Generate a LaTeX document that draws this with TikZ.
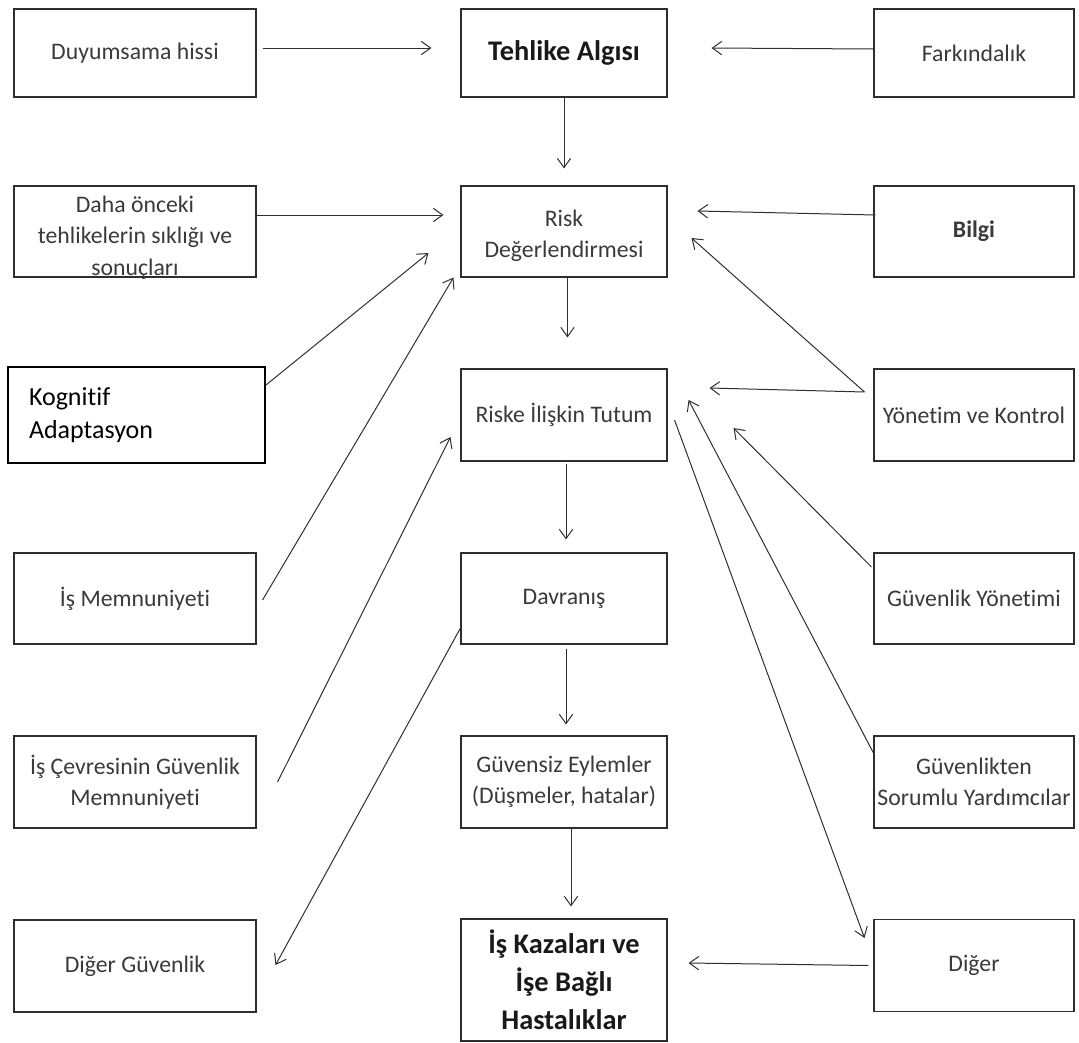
\documentclass[tikz,border=0pt]{standalone}
\usepackage{fontspec}
\setmainfont{Carlito}[Ligatures={NoCommon,NoRequired,NoContextual},Contextuals=NoAlternate]
\usetikzlibrary{arrows.meta,calc}
\definecolor{boxc}{HTML}{2E2E2E}
\definecolor{txtc}{HTML}{3A3A3A}
\definecolor{linec}{HTML}{303030}
\begin{document}
\begin{tikzpicture}[x=0.75pt,y=-0.75pt,
  box/.style={draw=boxc, line width=0.8pt, inner sep=0pt, align=center, text=txtc,
    font=\fontsize{17.8}{23.5}\selectfont},
  lbox/.style={box, minimum width=181.5pt},
  mbox/.style={box, minimum width=154.5pt},
  rbox/.style={box, minimum width=150pt},
  txt/.style={inner sep=0pt, align=center, text=txtc, font=\fontsize{17.8}{23.5}\selectfont},
  bigb/.style={font=\fontsize{21.3}{28.5}\selectfont\bfseries, text=black!90},
  conn/.style={draw=linec, line width=0.75pt, -{Straight Barb[length=7pt,width=10pt,line width=0.75pt]}}
]
\useasboundingbox (0,0) rectangle (1079,1043);
\fill[white] (0,0) rectangle (1079,1043);

% left column
\node[lbox, minimum height=66pt] (dh) at (135,53) {Duyumsama hissi};
\node[lbox, minimum height=68.25pt] (dah) at (135,231.5) {};
\node[txt] (dahT) at ($(dah.center)+(0,6)$) {Daha önceki\\tehlikelerin sıklığı ve\\sonuçları};
\node[box, draw=black, line width=1.5pt, text=black, align=left, inner xsep=15.75pt,
  text width=161.25pt, minimum height=72pt, font=\fontsize{19.5}{24.75}\selectfont] (kog) at (136.5,415) {Kognitif\\Adaptasyon};
\node[lbox, minimum height=68.25pt] (ism) at (135,598.5) {İş Memnuniyeti};
\node[lbox, minimum height=69pt] (isc) at (135,782) {İş Çevresinin Güvenlik\\Memnuniyeti};
\node[lbox, minimum height=69pt] (dgg) at (135,966) {Diğer Güvenlik};

% middle column
\node[mbox, bigb, minimum height=66pt] (ta) at (564,53) {Tehlike Algısı};
\node[mbox, minimum height=68.25pt] (rd) at (564,231.5) {};
\node[txt] (rdT) at ($(rd.center)+(0,4)$) {Risk\\Değerlendirmesi};
\node[mbox, minimum height=69pt] (rit) at (564,415) {Riske İlişkin Tutum};
\node[mbox, minimum height=68.25pt] (dav) at (564,598.5) {Davranış};
\node[mbox, minimum height=69pt] (ge) at (564,782) {Güvensiz Eylemler\\(Düşmeler, hatalar)};
\node[mbox, bigb, minimum height=91.5pt] (ik) at (564,980) {İş Kazaları ve\\İşe Bağlı\\Hastalıklar};

% right column
\node[rbox, minimum height=66pt] (fk) at (974,53) {Farkındalık};
\node[rbox, minimum height=68.25pt, font=\fontsize{17.8}{23.5}\selectfont\bfseries] (bl) at (974,231.5) {Bilgi};
\node[rbox, minimum height=69pt] (yk) at (974,415) {Yönetim ve Kontrol};
\node[rbox, minimum height=68.25pt] (gy) at (974,598.5) {Güvenlik Yönetimi};
\node[rbox, minimum height=69pt] (gsy) at (974,782) {Güvenlikten\\Sorumlu Yardımcılar};
\node[rbox, minimum height=69pt] (dg) at (974,965.5) {Diğer};

% connectors
\draw[conn] ($(dh.east)+(6,-5)$) -- ($(ta.west)+(-29,-5)$);
\draw[conn] ($(fk.west)+(0,-4)$) -- ($(ta.east)+(44,-5)$);
\draw[conn] (ta.south) -- ($(rd.north)+(0,-17)$);
\draw[conn] ($(dah.east)+(0,-16.5)$) -- ($(rd.west)+(-17,-16.5)$);
\draw[conn] ($(bl.west)+(2,-16.5)$) -- ($(rd.east)+(30,-20.5)$);
\draw[conn] ($(rd.south)+(3.5,0)$) -- ($(rit.north)+(3.5,-31)$);
\coordinate (ykc) at ($(yk.west)+(-9,-23)$);
\draw[conn] (ykc) -- ($(rd.east)+(24,6.5)$);
\draw[conn] (ykc) -- ($(rit.east)+(42,-27)$);
\draw[conn] ($(rit.south)+(2,2)$) -- ($(dav.north)+(2,-13)$);
\draw[conn] ($(gy.west)+(-2,-31.5)$) -- ($(rit.east)+(66,13)$);
\draw[conn] ($(dav.south)+(2,4)$) -- ($(ge.north)+(2,-11)$);
\draw[conn] ($(ge.south)+(7,0)$) -- ($(ik.north)+(7,-12)$);
\draw[conn] ($(dg.west)+(-5,0)$) -- ($(ik.east)+(21,-17)$);
\draw[conn] ($(gsy.west)+(0,-29)$) -- ($(rit.east)+(21,-15)$);
\draw[conn] ($(rit.east)+(7,5)$) -- ($(dg.west)+(-9,-27.5)$);
\draw[conn] ($(kog.east)+(0,-30)$) -- ($(rd.west)+(-32,21.5)$);
\draw[conn] ($(ism.east)+(6,1.5)$) -- ($(rd.south west)+(-7,0)$);
\draw[conn] ($(isc.east)+(21,0)$) -- ($(rit.west)+(-10,22)$);
\draw[conn] ($(dav.west)+(0,29.5)$) -- ($(dgg.east)+(19,-1)$);
\end{tikzpicture}
\end{document}
